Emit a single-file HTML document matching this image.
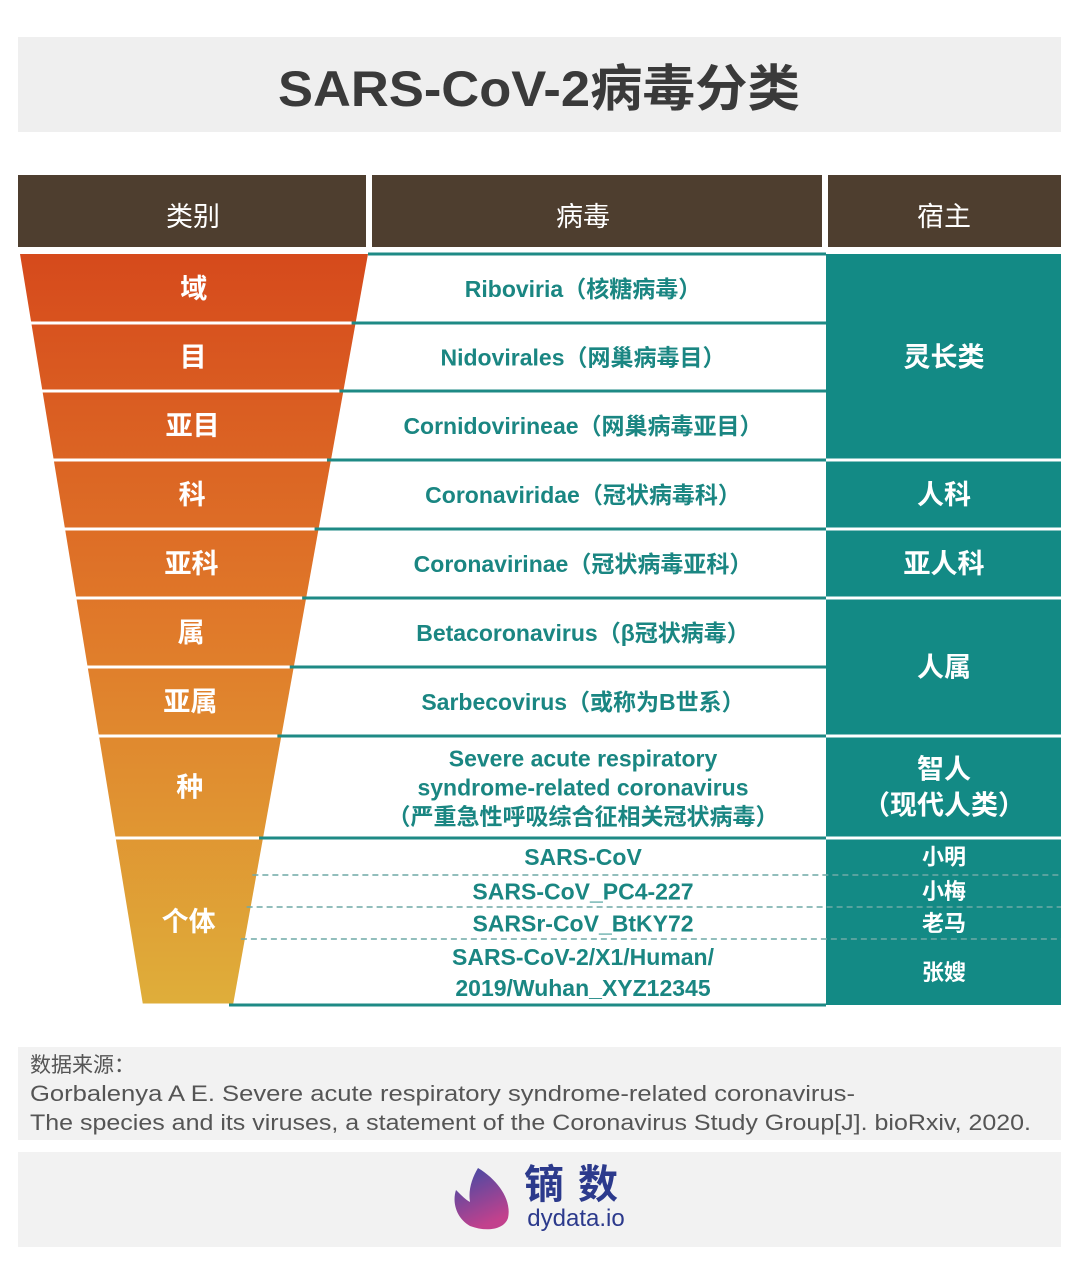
<!DOCTYPE html>
<html><head><meta charset="utf-8"><style>
body{margin:0;background:#fff;}
svg text{font-family:"Liberation Sans","Noto Sans CJK SC",sans-serif;}
</style></head><body>
<svg width="1080" height="1272" viewBox="0 0 1080 1272" xmlns="http://www.w3.org/2000/svg">
<defs>
<linearGradient id="fg" x1="0" y1="254" x2="0" y2="1005" gradientUnits="userSpaceOnUse">
<stop offset="0" stop-color="#d64a1c"/><stop offset="0.5" stop-color="#e07a2a"/><stop offset="1" stop-color="#dfae3a"/>
</linearGradient>
<linearGradient id="lg" x1="0" y1="0" x2="0.4" y2="1">
<stop offset="0" stop-color="#3b4ba6"/><stop offset="1" stop-color="#c2418d"/>
</linearGradient>
</defs>
<rect x="18" y="37" width="1043" height="95" fill="#efefef"/>
<text x="278" y="106" font-size="50" font-weight="bold" fill="#3a3a3a" textLength="522" lengthAdjust="spacingAndGlyphs">SARS-CoV-2病毒分类</text>
<g>
<rect x="18" y="175" width="348" height="72" fill="#4e3e2f"/>
<rect x="372" y="175" width="450" height="72" fill="#4e3e2f"/>
<rect x="828" y="175" width="233" height="72" fill="#4e3e2f"/>
<text x="193" y="226" text-anchor="middle" font-size="27" fill="#fff">类别</text>
<text x="583" y="226" text-anchor="middle" font-size="27" fill="#fff">病毒</text>
<text x="944" y="226" text-anchor="middle" font-size="27" fill="#fff">宿主</text>
</g>
<rect x="826" y="254" width="235" height="751" fill="#138a85"/>
<g id="rows"></g>
<g>
<rect x="18" y="1047" width="1043" height="93" fill="#f2f2f2"/>
<text x="30" y="1072" font-size="21" fill="#555">数据来源：</text>
<text x="30" y="1101" font-size="22" fill="#555" textLength="825" lengthAdjust="spacingAndGlyphs">Gorbalenya A E. Severe acute respiratory syndrome-related coronavirus-</text>
<text x="30" y="1130" font-size="22" fill="#555" textLength="1001" lengthAdjust="spacingAndGlyphs">The species and its viruses, a statement of the Coronavirus Study Group[J]. bioRxiv, 2020.</text>
</g>
<g>
<rect x="18" y="1152" width="1043" height="95" fill="#f2f2f2"/>
<path d="M478 1168 C498 1180 512 1200 508 1218 C504 1230 486 1232 470 1226 C456 1218 452 1202 456 1190 C462 1196 466 1200 470 1202 C468 1190 472 1178 478 1168 Z" fill="url(#lg)"/>
<text x="578" y="1198" text-anchor="middle" font-size="40" font-weight="bold" fill="#2c3a8c" letter-spacing="14">镝数</text>
<text x="576" y="1226" text-anchor="middle" font-size="24" fill="#2c3a8c">dydata.io</text>
</g>
</svg>
<script>
const categories=["域","目","亚目","科","亚科","属","亚属","种","个体"];
const rowEdges=[254,323,391,460,529,598,667,736,838,1005];
const viruses=[["Riboviria（核糖病毒）"],["Nidovirales（网巢病毒目）"],["Cornidovirineae（网巢病毒亚目）"],["Coronaviridae（冠状病毒科）"],["Coronavirinae（冠状病毒亚科）"],["Betacoronavirus（β冠状病毒）"],["Sarbecovirus（或称为B世系）"],["Severe acute respiratory","syndrome-related coronavirus","（严重急性呼吸综合征相关冠状病毒）"]];
const subEdges=[838,875,907,939,1005];
const individuals=[["SARS-CoV"],["SARS-CoV_PC4-227"],["SARSr-CoV_BtKY72"],["SARS-CoV-2/X1/Human/","2019/Wuhan_XYZ12345"]];
const hosts=[{t:["灵长类"],a:0,b:3},{t:["人科"],a:3,b:4},{t:["亚人科"],a:4,b:5},{t:["人属"],a:5,b:7},{t:["智人","（现代人类）"],a:7,b:8}];
const indHosts=["小明","小梅","老马","张嫂"];
const NS="http://www.w3.org/2000/svg";
const g=document.getElementById('rows');
const T=254,B=1005;
const lx=y=>20+(y-T)*(143-20)/(B-T);
const rx=y=>368-(y-T)*(368-233)/(B-T);
function mk(tag,at,parent){const e=document.createElementNS(NS,tag);for(const k in at)e.setAttribute(k,at[k]);(parent||g).appendChild(e);return e;}
function txt(lines,x,yc,size,fill,lh,weight){const n=lines.length;lines.forEach((s,i)=>{const t=mk('text',{x:x,y:yc+(i-(n-1)/2)*lh+size*0.36,'text-anchor':'middle','font-size':size,fill:fill,'font-weight':weight||'bold'});t.textContent=s;

});}
const teal="#1a8682";
categories.forEach((c,i)=>{
 const y0=rowEdges[i]+(i?1.5:0),y1=rowEdges[i+1]-1.5;
 const p=mk('polygon',{points:`${lx(y0)},${y0} ${rx(y0)},${y0} ${rx(y1)},${y1} ${lx(y1)},${y1}`,fill:'url(#fg)'});
 
 
 const yc=(rowEdges[i]+rowEdges[i+1])/2;
 txt([c],(lx(yc)+rx(yc))/2,yc,27,'#fff',30,'bold');
});
rowEdges.forEach((y,i)=>{
 const l=mk('line',{x1:rx(y)-(i===0?0:4),y1:y,x2:826,y2:y,stroke:'#1e8a85','stroke-width':3});
 
 
});
viruses.forEach((v,i)=>{const yc=(rowEdges[i]+rowEdges[i+1])/2;txt(v,583,yc,23,teal,29);});
subEdges.slice(1,-1).forEach(y=>{
 const l=mk('line',{x1:rx(y)-4,y1:y,x2:1061,y2:y,stroke:'#6fa9a6','stroke-width':1.5,'stroke-dasharray':'6,4'});
 
 
});
individuals.forEach((v,i)=>{const yc=(subEdges[i]+subEdges[i+1])/2;txt(v,583,yc,23,teal,31);});
hosts.forEach(h=>{const yc=(rowEdges[h.a]+rowEdges[h.b])/2;txt(h.t,944,yc,27,'#fff',36);});
[3,4,5,7,8].forEach(i=>{const y=rowEdges[i];const l=mk('line',{x1:826,y1:y,x2:1061,y2:y,stroke:'#fff','stroke-width':3});
 
 });
indHosts.forEach((h,i)=>{const yc=(subEdges[i]+subEdges[i+1])/2;txt([h],944,yc,22,'#fff',28);});
</script>
</body></html>
